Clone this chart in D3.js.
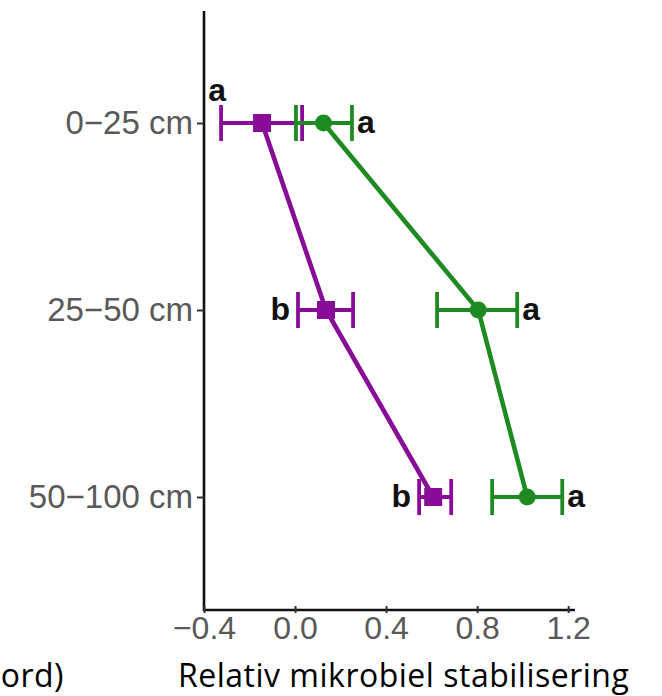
<!DOCTYPE html>
<html>
<head>
<meta charset="utf-8">
<script src="https://cdn.jsdelivr.net/npm/d3@7"></script>
<style>
  html, body { margin: 0; padding: 0; background: #fff; }
  svg { display: block; }
</style>
</head>
<body>
<svg id="chart" width="662" height="696"></svg>
<script>
// Soil depth layers (top to bottom)
const depths = ["0\u221225 cm", "25\u221250 cm", "50\u2212100 cm"];

// Purple series: mean, lower and upper error bound
const purpleMean  = [-0.145, 0.136, 0.607];
const purpleLow   = [-0.325, 0.013, 0.545];
const purpleHigh  = [ 0.031, 0.255, 0.686];

// Green series: mean, lower and upper error bound
const greenMean   = [0.125, 0.805, 1.020];
const greenLow    = [0.004, 0.624, 0.866];
const greenHigh   = [0.250, 0.976, 1.174];

// Significance letters per depth
const purpleLetters = ["a", "b", "b"];
const greenLetters  = ["a", "a", "a"];

const xTicks = [-0.4, 0.0, 0.4, 0.8, 1.2];
const xTitle = "Relativ mikrobiel stabilisering";
const clippedTitle = "ord)";

const purple = "#880c98";
const green  = "#1d8a22";

const svg = d3.select("#chart");

const x = d3.scaleLinear().domain([-0.4, 1.23]).range([204, 575]);
const y = d3.scalePoint().domain(depths).range([123, 497]);

const axisTop = 11, axisBottom = 610;

function series(mean, low, high, color, shape) {
  const rows = depths.map((d, i) => ({ d, m: mean[i], lo: low[i], hi: high[i] }));
  return { rows, color, shape };
}
const P = series(purpleMean, purpleLow, purpleHigh, purple, "square");
const G = series(greenMean, greenLow, greenHigh, green, "circle");

// Error bars
const capH = 18;
[P, G].forEach(s => {
  const eb = svg.append("g").attr("stroke", s.color).attr("stroke-width", 3.8).attr("fill", "none");
  s.rows.forEach(r => {
    const yy = y(r.d);
    eb.append("line").attr("x1", x(r.lo)).attr("x2", x(r.hi)).attr("y1", yy).attr("y2", yy);
    eb.append("line").attr("x1", x(r.lo)).attr("x2", x(r.lo)).attr("y1", yy - capH).attr("y2", yy + capH);
    eb.append("line").attr("x1", x(r.hi)).attr("x2", x(r.hi)).attr("y1", yy - capH).attr("y2", yy + capH);
  });
});

// Connecting lines
const line = d3.line().x(r => x(r.m)).y(r => y(r.d));
[P, G].forEach(s => {
  svg.append("path").datum(s.rows).attr("d", line)
    .attr("fill", "none").attr("stroke", s.color).attr("stroke-width", 4.6);
});

// Points
[P, G].forEach(s => {
  const g = svg.append("g").attr("fill", s.color);
  if (s.shape === "square") {
    g.selectAll("rect").data(s.rows).join("rect")
      .attr("x", r => x(r.m) - 9).attr("y", r => y(r.d) - 9)
      .attr("width", 18).attr("height", 18);
  } else {
    g.selectAll("circle").data(s.rows).join("circle")
      .attr("cx", r => x(r.m)).attr("cy", r => y(r.d)).attr("r", 8.5);
  }
});

// Axes
const axisG = svg.append("g");
axisG.append("line").attr("x1", 204).attr("x2", 204).attr("y1", axisTop).attr("y2", axisBottom + 1)
  .attr("stroke", "#111").attr("stroke-width", 2.6);
axisG.append("line").attr("x1", 203).attr("x2", 575).attr("y1", axisBottom).attr("y2", axisBottom)
  .attr("stroke", "#111").attr("stroke-width", 2.6);

const yAxis = d3.axisLeft(y).tickSize(7).tickPadding(4);
const yg = svg.append("g").attr("transform", "translate(204,0)").call(yAxis);
yg.select(".domain").remove();
yg.selectAll(".tick line").attr("stroke", "#333").attr("stroke-width", 2);
yg.selectAll(".tick text").attr("fill", "#595959").attr("font-size", 33)
  .attr("font-family", "Liberation Sans, Arial, sans-serif");

const xAxis = d3.axisBottom(x).tickValues(xTicks).tickSize(7).tickPadding(4)
  .tickFormat(v => d3.format(".1f")(v).replace("-", "\u2212"));
const xg = svg.append("g").attr("transform", `translate(0,${axisBottom})`).call(xAxis);
xg.select(".domain").remove();
xg.selectAll(".tick line").attr("stroke", "#333").attr("stroke-width", 2).attr("y1", -4).attr("y2", 3);
xg.selectAll(".tick text").attr("fill", "#595959").attr("font-size", 32)
  .attr("font-family", "Liberation Sans, Arial, sans-serif").attr("dy", "0.55em");

// Significance letters
const letterFont = { "font-size": 32, "font-weight": "bold", "font-family": "Liberation Sans, Arial, sans-serif", "fill": "#111" };
function letter(tx, ty, txt, anchor) {
  const t = svg.append("text").attr("x", tx).attr("y", ty).attr("text-anchor", anchor).text(txt);
  Object.entries(letterFont).forEach(([k, v]) => t.attr(k, v));
}
P.rows.forEach((r, i) => {
  if (i === 0) letter(x(r.lo) - 4, y(r.d) - 22, purpleLetters[i], "middle");
  else letter(x(r.lo) - 8, y(r.d) + 10, purpleLetters[i], "end");
});
G.rows.forEach((r, i) => letter(x(r.hi) + 5, y(r.d) + 10, greenLetters[i], "start"));

// Axis titles
svg.append("text").attr("x", 178).attr("y", 687).text(xTitle)
  .attr("font-family", "Open Sans, sans-serif").attr("font-size", 32)
  .attr("letter-spacing", 0.5).attr("fill", "#000");
svg.append("text").attr("x", 64).attr("y", 687).attr("text-anchor", "end").text(clippedTitle)
  .attr("font-family", "Open Sans, sans-serif").attr("font-size", 32)
  .attr("letter-spacing", 0.5).attr("fill", "#000");
</script>
</body>
</html>
